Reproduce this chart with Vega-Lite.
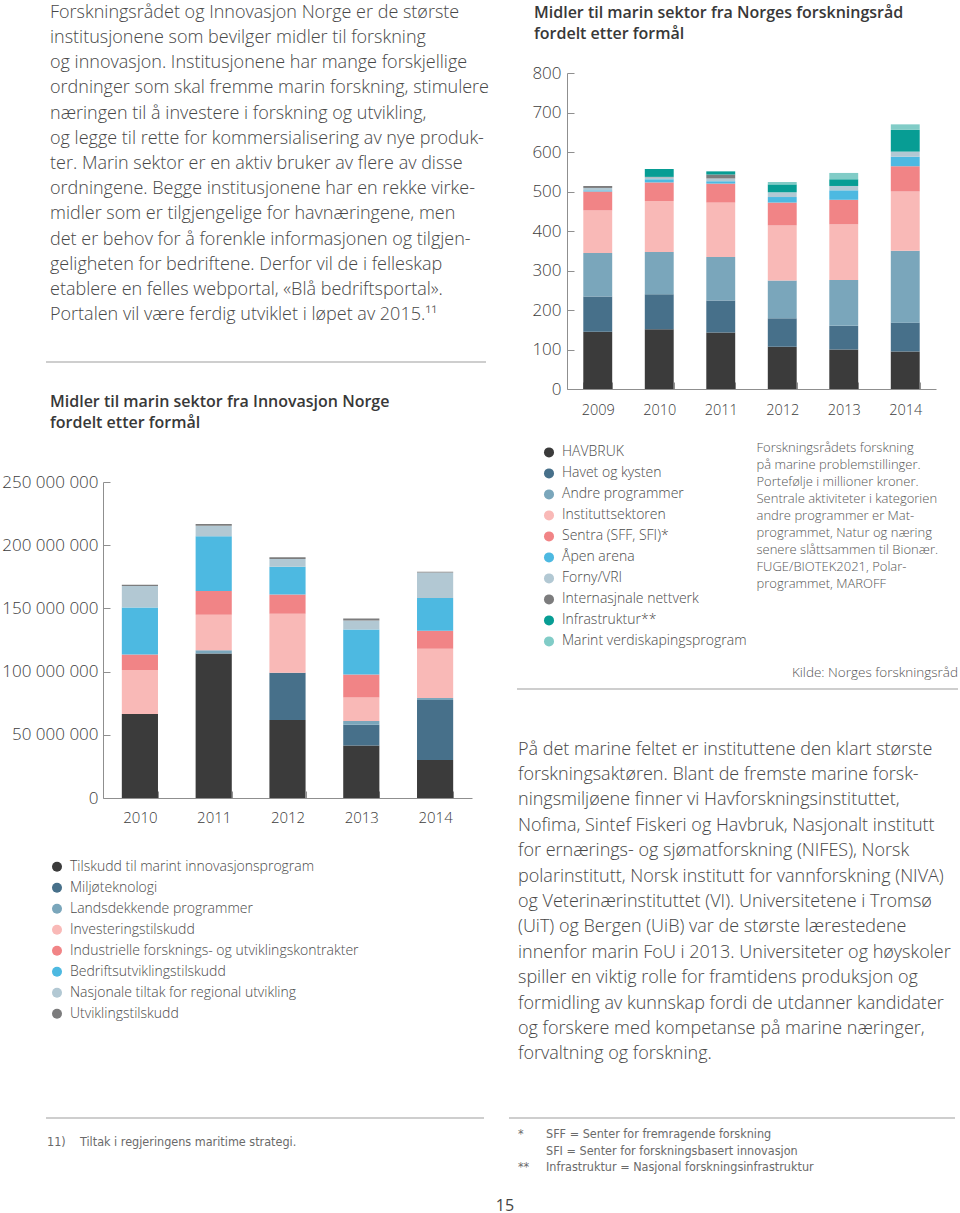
{
"$schema": "https://vega.github.io/schema/vega-lite/v6.json",
"padding": 0,
"background": "white",
"config": {"view": {"stroke": null}, "font": "Open Sans"},
"resolve": {"scale": {"color": "independent"}, "legend": {"color": "independent"}},
"datasets": {
"nfr": [
{"year":"2009","cat":"HAVBRUK","v":145,"k":1},{"year":"2009","cat":"Havet og kysten","v":89,"k":2},{"year":"2009","cat":"Andre programmer","v":110,"k":3},{"year":"2009","cat":"Instituttsektoren","v":108,"k":4},{"year":"2009","cat":"Sentra (SFF, SFI)*","v":48,"k":5},{"year":"2009","cat":"Åpen arena","v":3,"k":6},{"year":"2009","cat":"Forny/VRI","v":6,"k":7},{"year":"2009","cat":"Internasjnale nettverk","v":5,"k":8},
{"year":"2010","cat":"HAVBRUK","v":151,"k":1},{"year":"2010","cat":"Havet og kysten","v":89,"k":2},{"year":"2010","cat":"Andre programmer","v":107,"k":3},{"year":"2010","cat":"Instituttsektoren","v":129,"k":4},{"year":"2010","cat":"Sentra (SFF, SFI)*","v":47,"k":5},{"year":"2010","cat":"Åpen arena","v":8,"k":6},{"year":"2010","cat":"Forny/VRI","v":5,"k":7},{"year":"2010","cat":"Internasjnale nettverk","v":1,"k":8},{"year":"2010","cat":"Infrastruktur**","v":20,"k":9},
{"year":"2011","cat":"HAVBRUK","v":143,"k":1},{"year":"2011","cat":"Havet og kysten","v":81,"k":2},{"year":"2011","cat":"Andre programmer","v":110,"k":3},{"year":"2011","cat":"Instituttsektoren","v":138,"k":4},{"year":"2011","cat":"Sentra (SFF, SFI)*","v":48,"k":5},{"year":"2011","cat":"Åpen arena","v":6,"k":6},{"year":"2011","cat":"Forny/VRI","v":7,"k":7},{"year":"2011","cat":"Internasjnale nettverk","v":10,"k":8},{"year":"2011","cat":"Infrastruktur**","v":8,"k":9},
{"year":"2012","cat":"HAVBRUK","v":107,"k":1},{"year":"2012","cat":"Havet og kysten","v":72,"k":2},{"year":"2012","cat":"Andre programmer","v":96,"k":3},{"year":"2012","cat":"Instituttsektoren","v":139,"k":4},{"year":"2012","cat":"Sentra (SFF, SFI)*","v":58,"k":5},{"year":"2012","cat":"Åpen arena","v":14,"k":6},{"year":"2012","cat":"Forny/VRI","v":12,"k":7},{"year":"2012","cat":"Infrastruktur**","v":20,"k":9},{"year":"2012","cat":"Marint verdiskapingsprogram","v":6,"k":10},
{"year":"2013","cat":"HAVBRUK","v":100,"k":1},{"year":"2013","cat":"Havet og kysten","v":60,"k":2},{"year":"2013","cat":"Andre programmer","v":116,"k":3},{"year":"2013","cat":"Instituttsektoren","v":141,"k":4},{"year":"2013","cat":"Sentra (SFF, SFI)*","v":62,"k":5},{"year":"2013","cat":"Åpen arena","v":24,"k":6},{"year":"2013","cat":"Forny/VRI","v":11,"k":7},{"year":"2013","cat":"Infrastruktur**","v":17,"k":9},{"year":"2013","cat":"Marint verdiskapingsprogram","v":16,"k":10},
{"year":"2014","cat":"HAVBRUK","v":95,"k":1},{"year":"2014","cat":"Havet og kysten","v":73,"k":2},{"year":"2014","cat":"Andre programmer","v":182,"k":3},{"year":"2014","cat":"Instituttsektoren","v":150,"k":4},{"year":"2014","cat":"Sentra (SFF, SFI)*","v":64,"k":5},{"year":"2014","cat":"Åpen arena","v":24,"k":6},{"year":"2014","cat":"Forny/VRI","v":13,"k":7},{"year":"2014","cat":"Infrastruktur**","v":55,"k":9},{"year":"2014","cat":"Marint verdiskapingsprogram","v":14,"k":10}
],
"inn": [
{"year":"2010","cat":"Tilskudd til marint innovasjonsprogram","v":66500000,"k":1},{"year":"2010","cat":"Investeringstilskudd","v":34800000,"k":4},{"year":"2010","cat":"Industrielle forsknings- og utviklingskontrakter","v":12300000,"k":5},{"year":"2010","cat":"Bedriftsutviklingstilskudd","v":37200000,"k":6},{"year":"2010","cat":"Nasjonale tiltak for regional utvikling","v":17000000,"k":7},{"year":"2010","cat":"Utviklingstilskudd","v":1000000,"k":8},
{"year":"2011","cat":"Tilskudd til marint innovasjonsprogram","v":114300000,"k":1},{"year":"2011","cat":"Landsdekkende programmer","v":2500000,"k":3},{"year":"2011","cat":"Investeringstilskudd","v":28100000,"k":4},{"year":"2011","cat":"Industrielle forsknings- og utviklingskontrakter","v":18900000,"k":5},{"year":"2011","cat":"Bedriftsutviklingstilskudd","v":43200000,"k":6},{"year":"2011","cat":"Nasjonale tiltak for regional utvikling","v":8400000,"k":7},{"year":"2011","cat":"Utviklingstilskudd","v":1300000,"k":8},
{"year":"2012","cat":"Tilskudd til marint innovasjonsprogram","v":61700000,"k":1},{"year":"2012","cat":"Miljøteknologi","v":37300000,"k":2},{"year":"2012","cat":"Investeringstilskudd","v":46700000,"k":4},{"year":"2012","cat":"Industrielle forsknings- og utviklingskontrakter","v":15300000,"k":5},{"year":"2012","cat":"Bedriftsutviklingstilskudd","v":22000000,"k":6},{"year":"2012","cat":"Nasjonale tiltak for regional utvikling","v":6100000,"k":7},{"year":"2012","cat":"Utviklingstilskudd","v":1300000,"k":8},
{"year":"2013","cat":"Tilskudd til marint innovasjonsprogram","v":41500000,"k":1},{"year":"2013","cat":"Miljøteknologi","v":16500000,"k":2},{"year":"2013","cat":"Landsdekkende programmer","v":3000000,"k":3},{"year":"2013","cat":"Investeringstilskudd","v":18500000,"k":4},{"year":"2013","cat":"Industrielle forsknings- og utviklingskontrakter","v":18200000,"k":5},{"year":"2013","cat":"Bedriftsutviklingstilskudd","v":35600000,"k":6},{"year":"2013","cat":"Nasjonale tiltak for regional utvikling","v":7100000,"k":7},{"year":"2013","cat":"Utviklingstilskudd","v":1600000,"k":8},
{"year":"2014","cat":"Tilskudd til marint innovasjonsprogram","v":30000000,"k":1},{"year":"2014","cat":"Miljøteknologi","v":47600000,"k":2},{"year":"2014","cat":"Landsdekkende programmer","v":1600000,"k":3},{"year":"2014","cat":"Investeringstilskudd","v":38800000,"k":4},{"year":"2014","cat":"Industrielle forsknings- og utviklingskontrakter","v":14300000,"k":5},{"year":"2014","cat":"Bedriftsutviklingstilskudd","v":25900000,"k":6},{"year":"2014","cat":"Nasjonale tiltak for regional utvikling","v":20300000,"k":7},{"year":"2014","cat":"Utviklingstilskudd","v":500000,"k":8}
]
},
"vconcat": [
{"hconcat": [
  {"vconcat": [
    {"width": 100, "height": 328,
     "data": {"values": [
      {"line":1,"text":"Forskningsrådet og Innovasjon Norge er de største"},
      {"line":2,"text":"institusjonene som bevilger midler til forskning"},
      {"line":3,"text":"og innovasjon. Institusjonene har mange forskjellige"},
      {"line":4,"text":"ordninger som skal fremme marin forskning, stimulere"},
      {"line":5,"text":"næringen til å investere i forskning og utvikling,"},
      {"line":6,"text":"og legge til rette for kommersialisering av nye produk-"},
      {"line":7,"text":"ter. Marin sektor er en aktiv bruker av flere av disse"},
      {"line":8,"text":"ordningene. Begge institusjonene har en rekke virke-"},
      {"line":9,"text":"midler som er tilgjengelige for havnæringene, men"},
      {"line":10,"text":"det er behov for å forenkle informasjonen og tilgjen-"},
      {"line":11,"text":"geligheten for bedriftene. Derfor vil de i felleskap"},
      {"line":12,"text":"etablere en felles webportal, «Blå bedriftsportal»."},
      {"line":13,"text":"Portalen vil være ferdig utviklet i løpet av 2015.¹¹"}
     ]},
     "mark": {"type": "text", "align": "left", "baseline": "middle", "fontSize": 18, "fontWeight": 300, "color": "#474747"},
     "encoding": {"y": {"field": "line", "type": "ordinal", "axis": null, "scale": {"padding": 0.5}}, "text": {"field": "text"}}},
    {"hconcat": [
      {"width": 45, "height": 34, "data": {"values": []}, "mark": "text"},
      {"width": 440, "height": 34, "data": {"values": [{}]}, "mark": {"type": "rule", "color": "#9d9d9d", "strokeWidth": 1}, "encoding": {"y": {"datum": 0, "type": "quantitative", "scale": {"domain": [0, 1]}, "axis": null}}},
      {"width": 29, "height": 34, "data": {"values": []}, "mark": "text"}
    ], "spacing": 0, "align": "each"},
    {"width": 1, "height": 31, "data": {"values": []}, "mark": "text"},
    {"hconcat": [
      {"width": 1, "height": 1, "data": {"values": []}, "mark": "text"},
      {"width": 369, "height": 316,
       "data": {"name": "inn"},
       "title": {"text": ["Midler til marin sektor fra Innovasjon Norge", "fordelt etter formål"], "anchor": "start", "frame": "group", "dx": -53, "offset": 41.6, "fontSize": 16, "fontWeight": 600, "color": "#383838", "lineHeight": 21, "font": "Open Sans"},
       "mark": {"type": "bar"},
       "encoding": {
        "x": {"field": "year", "type": "ordinal", "scale": {"paddingInner": 0.51, "paddingOuter": 0.255},
              "axis": {"title": null, "labelAngle": 0, "labelFontSize": 15, "labelFontWeight": 300, "labelColor": "#3c3c3c", "labelPadding": 19, "tickSize": -7, "tickBand": "extent", "tickColor": "#8f8f8f", "domainColor": "#8f8f8f"}},
        "y": {"field": "v", "type": "quantitative", "stack": "zero", "scale": {"domain": [0, 250000000], "nice": false},
              "axis": {"title": null, "values": [0, 50000000, 100000000, 150000000, 200000000, 250000000], "labelExpr": "datum.value == 0 ? '0' : format(datum.value / 1000000, 'd') + ' 000 000'", "labelFontSize": 17, "labelFontWeight": 300, "labelColor": "#3c3c3c", "labelPadding": 12, "tickSize": -7, "tickColor": "#8f8f8f", "domainColor": "#8f8f8f", "grid": false}},
        "color": {"field": "cat", "type": "nominal",
                  "scale": {"domain": ["Tilskudd til marint innovasjonsprogram", "Miljøteknologi", "Landsdekkende programmer", "Investeringstilskudd", "Industrielle forsknings- og utviklingskontrakter", "Bedriftsutviklingstilskudd", "Nasjonale tiltak for regional utvikling", "Utviklingstilskudd"],
                            "range": ["#3b3b3b", "#47708a", "#7aa6bb", "#f9b9b7", "#f18486", "#4db9e1", "#b2c8d3", "#7c7c7d"]},
                  "legend": {"title": null, "orient": "none", "legendX": -53, "legendY": 374.3, "symbolType": "circle", "symbolSize": 100, "symbolStrokeWidth": 0, "labelFontSize": 14, "labelFontWeight": 300, "labelColor": "#4a4a4a", "labelOffset": 6, "clipHeight": 20.8, "rowPadding": 0, "padding": 0, "labelLimit": 500}},
        "order": {"field": "k", "type": "quantitative"}
       }}
    ], "spacing": 0, "align": "each", "resolve": {"scale": {"color": "independent"}, "legend": {"color": "independent"}}}
  ], "spacing": 0, "align": "each", "resolve": {"scale": {"color": "independent"}, "legend": {"color": "independent"}}},
  {"vconcat": [
    {"width": 1, "height": 5, "data": {"values": []}, "mark": "text"},
    {"hconcat": [
      {"width": 14, "height": 1, "data": {"values": []}, "mark": "text"},
      {"width": 369, "height": 316,
       "data": {"name": "nfr"},
       "title": {"text": ["Midler til marin sektor fra Norges forskningsråd", "fordelt etter formål"], "anchor": "start", "frame": "group", "dx": -33, "offset": 22, "fontSize": 16, "fontWeight": 600, "color": "#383838", "lineHeight": 21, "font": "Open Sans"},
       "mark": {"type": "bar"},
       "encoding": {
        "x": {"field": "year", "type": "ordinal", "scale": {"paddingInner": 0.53, "paddingOuter": 0.265},
              "axis": {"title": ["Forskningsrådets forskning", "på marine problemstillinger.", "Portefølje i millioner kroner.", "Sentrale aktiviteter i kategorien", "andre programmer er Mat-", "programmet, Natur og næring", "senere slåttsammen til Bionær.", "FUGE/BIOTEK2021, Polar-", "programmet, MAROFF"],
                       "titleX": 189, "titleY": 52, "titleAlign": "left", "titleAnchor": "start", "titleBaseline": "top", "titleFontSize": 13, "titleFontWeight": 300, "titleColor": "#555555", "titleLineHeight": 17,
                       "labelAngle": 0, "labelFontSize": 14.5, "labelFontWeight": 300, "labelColor": "#3c3c3c", "labelPadding": 21, "tickSize": -7, "tickBand": "extent", "tickColor": "#8f8f8f", "domainColor": "#8f8f8f"}},
        "y": {"field": "v", "type": "quantitative", "stack": "zero", "scale": {"domain": [0, 800], "nice": false},
              "axis": {"title": null, "values": [0, 100, 200, 300, 400, 500, 600, 700, 800], "labelFontSize": 17, "labelFontWeight": 300, "labelColor": "#3c3c3c", "labelPadding": 13, "tickSize": -7, "tickColor": "#8f8f8f", "domainColor": "#8f8f8f", "grid": false}},
        "color": {"field": "cat", "type": "nominal",
                  "scale": {"domain": ["HAVBRUK", "Havet og kysten", "Andre programmer", "Instituttsektoren", "Sentra (SFF, SFI)*", "Åpen arena", "Forny/VRI", "Internasjnale nettverk", "Infrastruktur**", "Marint verdiskapingsprogram"],
                            "range": ["#3b3b3b", "#47708a", "#7aa6bb", "#f9b9b7", "#f18486", "#4db9e1", "#b2c8d3", "#7c7c7d", "#079d94", "#81ccc7"]},
                  "legend": {"title": null, "orient": "none", "legendX": -25, "legendY": 369, "symbolType": "circle", "symbolSize": 100, "symbolStrokeWidth": 0, "labelFontSize": 14, "labelFontWeight": 300, "labelColor": "#4a4a4a", "labelOffset": 6, "clipHeight": 20.8, "rowPadding": 0, "padding": 0, "labelLimit": 500}},
        "order": {"field": "k", "type": "quantitative"}
       }}
    ], "spacing": 0, "align": "each", "resolve": {"scale": {"color": "independent"}, "legend": {"color": "independent"}}},
    {"width": 1, "height": 5, "data": {"values": []}, "mark": "text"},
    {"width": 441, "height": 32,
     "layer": [
      {"data": {"values": [{"text": "Kilde: Norges forskningsråd"}]},
       "mark": {"type": "text", "align": "right", "baseline": "middle", "fontSize": 13.5, "fontWeight": 300, "color": "#555555"},
       "encoding": {"x": {"datum": 1, "type": "quantitative", "scale": {"domain": [0, 1]}, "axis": null}, "text": {"field": "text"}}},
      {"data": {"values": [{}]},
       "mark": {"type": "rule", "color": "#9d9d9d", "strokeWidth": 1},
       "encoding": {"y": {"datum": 0, "type": "quantitative", "scale": {"domain": [0, 1]}, "axis": null}}}
     ]},
    {"width": 1, "height": 47, "data": {"values": []}, "mark": "text"},
    {"width": 2, "height": 330,
     "data": {"values": [
      {"line":1,"text":"På det marine feltet er instituttene den klart største"},
      {"line":2,"text":"forskningsaktøren. Blant de fremste marine forsk-"},
      {"line":3,"text":"ningsmiljøene finner vi Havforskningsinstituttet,"},
      {"line":4,"text":"Nofima, Sintef Fiskeri og Havbruk, Nasjonalt institutt"},
      {"line":5,"text":"for ernærings- og sjømatforskning (NIFES), Norsk"},
      {"line":6,"text":"polarinstitutt, Norsk institutt for vannforskning (NIVA)"},
      {"line":7,"text":"og Veterinærinstituttet (VI). Universitetene i Tromsø"},
      {"line":8,"text":"(UiT) og Bergen (UiB) var de største lærestedene"},
      {"line":9,"text":"innenfor marin FoU i 2013. Universiteter og høyskoler"},
      {"line":10,"text":"spiller en viktig rolle for framtidens produksjon og"},
      {"line":11,"text":"formidling av kunnskap fordi de utdanner kandidater"},
      {"line":12,"text":"og forskere med kompetanse på marine næringer,"},
      {"line":13,"text":"forvaltning og forskning."}
     ]},
     "mark": {"type": "text", "align": "left", "baseline": "middle", "fontSize": 18, "fontWeight": 300, "color": "#474747"},
     "encoding": {"y": {"field": "line", "type": "ordinal", "axis": null, "scale": {"padding": 0.5}}, "text": {"field": "text"}}}
  ], "spacing": 0, "align": "each", "resolve": {"scale": {"color": "independent"}, "legend": {"color": "independent"}}}
 ], "spacing": 0, "align": "each", "resolve": {"scale": {"color": "independent"}, "legend": {"color": "independent"}}},
{"vconcat": [
  {"hconcat": [
    {"width": 45, "height": 1, "data": {"values": []}, "mark": "text"},
    {"width": 438, "height": 1, "data": {"values": [{}]}, "mark": {"type": "rule", "color": "#9d9d9d", "strokeWidth": 1}, "encoding": {"y": {"datum": 1, "type": "quantitative", "scale": {"domain": [0, 1]}, "axis": null}}},
    {"width": 23, "height": 1, "data": {"values": []}, "mark": "text"},
    {"width": 446, "height": 1, "data": {"values": [{}]}, "mark": {"type": "rule", "color": "#9d9d9d", "strokeWidth": 1}, "encoding": {"y": {"datum": 1, "type": "quantitative", "scale": {"domain": [0, 1]}, "axis": null}}}
  ], "spacing": 0, "align": "each"},
  {"hconcat": [
    {"width": 47, "height": 1, "data": {"values": []}, "mark": "text"},
    {"width": 33, "height": 45, "data": {"values": [{"text": "11)"}]},
     "mark": {"type": "text", "align": "left", "baseline": "middle", "fontSize": 12.5, "font": "Liberation Sans Narrow, DejaVu Sans Condensed, Open Sans", "color": "#6a6a6a"},
     "encoding": {"x": {"datum": 0, "type": "quantitative", "scale": {"domain": [0, 1]}, "axis": null}, "text": {"field": "text"}}},
    {"width": 403, "height": 45, "data": {"values": [{"text": "Tiltak i regjeringens maritime strategi."}]},
     "mark": {"type": "text", "align": "left", "baseline": "middle", "fontSize": 12.5, "font": "Liberation Sans Narrow, DejaVu Sans Condensed, Open Sans", "color": "#6a6a6a"},
     "encoding": {"x": {"datum": 0, "type": "quantitative", "scale": {"domain": [0, 1]}, "axis": null}, "text": {"field": "text"}}},
    {"width": 35, "height": 1, "data": {"values": []}, "mark": "text"},
    {"width": 28, "height": 63, "data": {"values": [{"line": 1, "text": "*"}, {"line": 2, "text": ""}, {"line": 3, "text": "**"}]},
     "mark": {"type": "text", "align": "left", "baseline": "middle", "fontSize": 12.5, "font": "Liberation Sans Narrow, DejaVu Sans Condensed, Open Sans", "color": "#6a6a6a"},
     "encoding": {"x": {"datum": 0, "type": "quantitative", "scale": {"domain": [0, 1]}, "axis": null}, "y": {"field": "line", "type": "ordinal", "axis": null, "scale": {"domain": [1, 2, 3], "padding": 0.853}}, "text": {"field": "text"}}},
    {"width": 409, "height": 63, "data": {"values": [{"line": 1, "text": "SFF = Senter for fremragende forskning"}, {"line": 2, "text": "SFI = Senter for forskningsbasert innovasjon"}, {"line": 3, "text": "Infrastruktur = Nasjonal forskningsinfrastruktur"}]},
     "mark": {"type": "text", "align": "left", "baseline": "middle", "fontSize": 12.5, "font": "Liberation Sans Narrow, DejaVu Sans Condensed, Open Sans", "color": "#6a6a6a"},
     "encoding": {"x": {"datum": 0, "type": "quantitative", "scale": {"domain": [0, 1]}, "axis": null}, "y": {"field": "line", "type": "ordinal", "axis": null, "scale": {"domain": [1, 2, 3], "padding": 0.853}}, "text": {"field": "text"}}}
  ], "spacing": 0, "align": "each"},
  {"width": 1010, "height": 48, "data": {"values": [{"text": "15"}]},
   "mark": {"type": "text", "align": "center", "baseline": "middle", "fontSize": 16, "fontWeight": 400, "color": "#444444"},
   "encoding": {"text": {"field": "text"}}}
 ], "spacing": 0, "align": "each"}
],
"spacing": 50,
"align": "each"
}
